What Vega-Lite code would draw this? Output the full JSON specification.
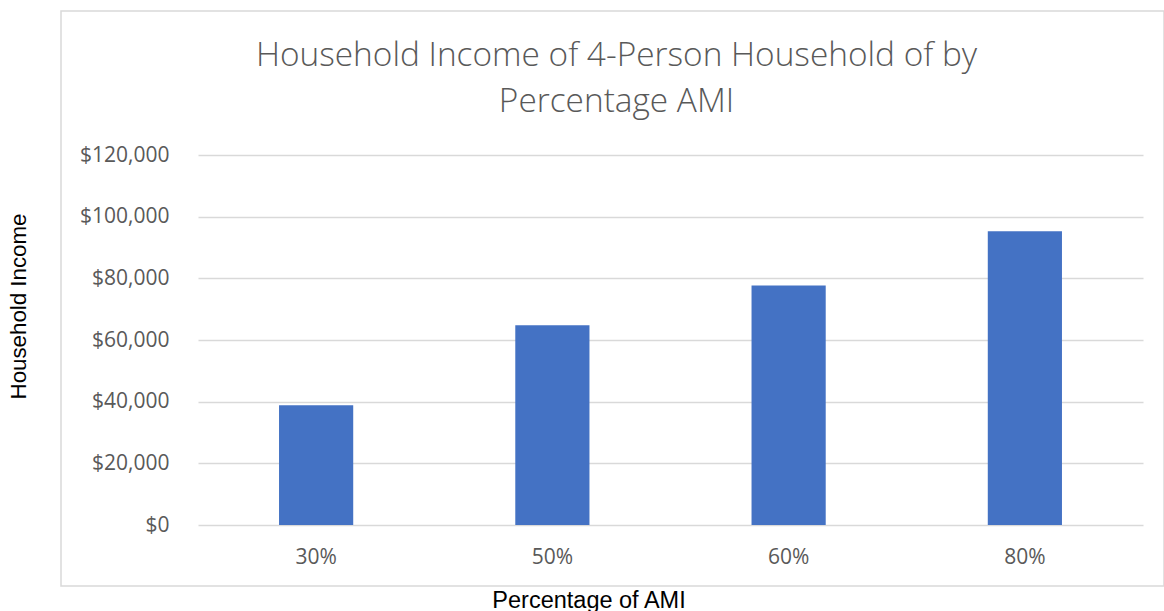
{
  "$schema": "https://vega.github.io/schema/vega-lite/v6.json",
  "autosize": {"type": "none"},
  "padding": {"left": 61, "top": 11, "right": 0, "bottom": 25},
  "width": 1103,
  "height": 575,
  "background": "white",
  "title": {
    "text": ["Household Income of 4-Person Household of by", "Percentage AMI"],
    "font": "Open Sans",
    "fontWeight": 300,
    "fontSize": 33.4,
    "color": "#595959",
    "anchor": "middle",
    "frame": "group",
    "baseline": "alphabetic",
    "lineHeight": 46,
    "offset": -134,
    "dx": 4
  },
  "config": {
    "view": {"stroke": "#D9D9D9", "strokeWidth": 1.5},
    "axis": {
      "labelFont": "Open Sans",
      "labelFontSize": 21,
      "labelColor": "#595959",
      "titleFont": "Liberation Sans",
      "titleFontWeight": "normal",
      "titleColor": "#000000",
      "domain": false,
      "ticks": false
    }
  },
  "data": {
    "values": [
      {"ami": "30%", "income": 38850},
      {"ami": "50%", "income": 64750},
      {"ami": "60%", "income": 77700},
      {"ami": "80%", "income": 95300}
    ]
  },
  "mark": {"type": "bar", "color": "#4472C4"},
  "encoding": {
    "x": {
      "field": "ami",
      "type": "nominal",
      "sort": null,
      "scale": {"range": [137, 1082], "paddingInner": 0.686, "paddingOuter": 0.343},
      "axis": {
        "title": "Percentage of AMI",
        "labelAngle": 0,
        "labelPadding": 21,
        "offset": -61,
        "grid": false,
        "titleFontSize": 23.5,
        "titleX": 527.5,
        "titleY": 82,
        "titleBaseline": "alphabetic",
        "titleAlign": "center"
      }
    },
    "y": {
      "field": "income",
      "type": "quantitative",
      "scale": {"domain": [0, 120000], "range": [514, 144], "nice": false, "zero": true},
      "axis": {
        "title": "Household Income",
        "values": [0, 20000, 40000, 60000, 80000, 100000, 120000],
        "format": "$,.0f",
        "labelPadding": 29,
        "offset": -137,
        "grid": true,
        "gridColor": "#D9D9D9",
        "gridWidth": 1.5,
        "titleFontSize": 22.3,
        "titleAngle": 270,
        "titleX": -172.5,
        "titleY": 295,
        "titleBaseline": "alphabetic",
        "titleAlign": "center"
      }
    }
  }
}
